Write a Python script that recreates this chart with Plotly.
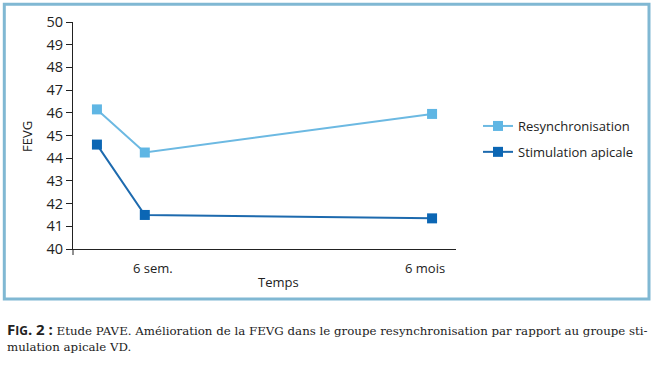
import plotly.graph_objects as go

# Data
x_pos = [0, 1, 7]
resync = [46.15, 44.25, 45.95]
stim = [44.6, 41.5, 41.35]
series_names = ["Resynchronisation", "Stimulation apicale"]
x_tick_vals = [1, 7]
x_tick_text = ["6 sem.", "6 mois"]
y_ticks = list(range(40, 51))

C_RES = "#5fb6e4"
C_RES_LINE = "#6cb9e2"
C_STIM = "#0b66b4"
C_STIM_LINE = "#1d6aae"
BORDER = "#80b8d3"
FONT = "Open Sans"

fig = go.Figure()
fig.add_trace(go.Scatter(
    x=x_pos, y=resync, name=series_names[0], mode="lines+markers",
    line=dict(color=C_RES_LINE, width=2),
    marker=dict(symbol="square", size=10, color=C_RES),
    legendgroup="a",
))
fig.add_trace(go.Scatter(
    x=x_pos, y=stim, name=series_names[1], mode="lines+markers",
    line=dict(color=C_STIM_LINE, width=2),
    marker=dict(symbol="square", size=10, color=C_STIM),
    legendgroup="b",
))

L, R, T, B = 73, 198, 22, 118
W, H = 654, 367
pw, ph = W - L - R, H - T - B

def px(xp):
    return (xp - L) / pw

def py(yp):
    return (H - B - yp) / ph

annotations = []
shifts = [8, -7]
for v, t, s in zip(x_tick_vals, x_tick_text, shifts):
    annotations.append(dict(
        x=v, y=py(268), xref="x", yref="paper", text=t, showarrow=False,
        xshift=s, font=dict(family=FONT, size=13, color="#222"),
        xanchor="center", yanchor="middle",
    ))
annotations.append(dict(
    x=px(278), y=py(282), xref="paper", yref="paper", text="Temps",
    showarrow=False, font=dict(family=FONT, size=13, color="#222"),
    xanchor="center", yanchor="middle",
))
annotations.append(dict(
    x=px(27), y=py(137), xref="paper", yref="paper", text="FEVG",
    showarrow=False, textangle=-90, font=dict(family=FONT, size=13, color="#222"),
    xanchor="center", yanchor="middle",
))
annotations.append(dict(
    x=px(5), y=py(329), xref="paper", yref="paper",
    text="<span style='font-family:Open Sans;font-size:15px'><b>F<span style='font-size:12px'>IG</span>. 2 :</b></span> Etude PAVE. Amélioration de la FEVG dans le groupe resynchronisation par rapport au groupe sti-",
    showarrow=False, font=dict(family="DejaVu Serif", size=11.8, color="#222"),
    xanchor="left", yanchor="middle",
))
annotations.append(dict(
    x=px(5), y=py(347), xref="paper", yref="paper",
    text="mulation apicale VD.",
    showarrow=False, font=dict(family="DejaVu Serif", size=11.8, color="#222"),
    xanchor="left", yanchor="middle",
))

fig.update_layout(
    width=W, height=H,
    margin=dict(l=L, r=R, t=T, b=B),
    paper_bgcolor="white", plot_bgcolor="white",
    showlegend=True,
    legend=dict(
        x=px(478), y=py(111), xanchor="left", yanchor="top",
        font=dict(family=FONT, size=13, color="#222"),
        tracegroupgap=6, bgcolor="rgba(0,0,0,0)",
    ),
    xaxis=dict(
        range=[-0.5, 7.5], showgrid=False, zeroline=False,
        showline=True, linecolor="#222", linewidth=1,
        showticklabels=False, ticks="",
    ),
    yaxis=dict(
        range=[40, 50], tickvals=y_ticks, showgrid=False, zeroline=False,
        showline=True, linecolor="#222", linewidth=1,
        ticks="outside", ticklen=6, tickcolor="#222",
        tickfont=dict(family=FONT, size=14.5, color="#222"),
    ),
    annotations=annotations,
    shapes=[
        dict(
            type="rect", xref="paper", yref="paper",
            x0=px(4.3), x1=px(649), y0=py(299), y1=py(4.3),
            line=dict(color=BORDER, width=3), layer="below",
        ),
        dict(
            type="line", xref="paper", yref="paper",
            x0=0, x1=0, y0=py(249), y1=py(255),
            line=dict(color="#222", width=1),
        ),
    ],
)

fig.write_html("out.html", config={"displayModeBar": False},
               post_script="document.body.style.margin='0';")
